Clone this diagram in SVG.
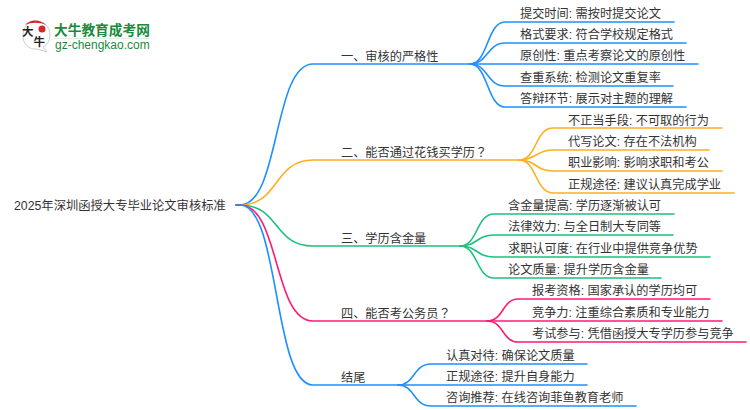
<svg xmlns="http://www.w3.org/2000/svg" width="750" height="410" viewBox="0 0 750 410">
<style>
text{font-family:"Liberation Sans","Noto Sans CJK SC",sans-serif;font-size:12.2px;fill:#333}
.q{font-family:"Noto Sans CJK TC",sans-serif}
.c{fill:none;stroke-width:1.6;stroke-linecap:round}
.b{stroke:#1e90ff}.o{stroke:#ffae1f}.g{stroke:#19c37d}.p{stroke:#ff1a75}
</style>
<rect width="750" height="410" fill="#fff"/>
<g id="logo">
<path d="M36 21C28 21 23 27 23 36C23 44 29 50 37 49L47 52L43 47C48 44 50 40 50 35C50 27 44 21 36 21Z" fill="#fff" stroke="#ccc" stroke-width="1"/>
<path d="M25 25C30 19 40 19 46 25C40 22 31 22 25 25Z" fill="#d8232a"/>
<circle cx="42" cy="29" r="3.5" fill="#d8232a"/>
<text x="22" y="36" style="font-size:11.5px;fill:#222;font-weight:700">大</text>
<text x="33.5" y="46" style="font-size:11.5px;fill:#222;font-weight:700">牛</text>
<text x="54" y="35" style="font-size:13.7px;fill:#1a8a3c;font-weight:700">大牛教育成考网</text>
<rect x="54" y="38" width="96" height="1" fill="#dfeee3"/>
<text x="55" y="49" style="font-size:12px;fill:#1a8a3c">gz-chengkao.com</text>
</g>
<g id="connectors">
<path class="c b" d="M236 205H240C280 205 273 64 313 64H470"/>
<path class="c o" d="M236 205H240C280 205 273 160 313 160H519"/>
<path class="c g" d="M236 205H240C280 205 273 246 313 246H460"/>
<path class="c p" d="M236 205H240C280 205 273 321 313 321H487"/>
<path class="c b" d="M236 205H240C280 205 273 385 313 385H398"/>
<path class="c b" d="M470 64C488 64 487 22 505 22H674"/>
<path class="c b" d="M470 64C488 64 487 43 505 43H686"/>
<path class="c b" d="M470 64H698"/>
<path class="c b" d="M470 64C488 64 487 86 505 86H673"/>
<path class="c b" d="M470 64C488 64 487 107 505 107H686"/>
<path class="c o" d="M519 160C537 160 535 128 553 128H722"/>
<path class="c o" d="M519 160C537 160 535 150 553 150H709"/>
<path class="c o" d="M519 160C537 160 535 171 553 171H722"/>
<path class="c o" d="M519 160C537 160 535 193 553 193H734"/>
<path class="c g" d="M460 246C478 246 476 214 494 214H674"/>
<path class="c g" d="M460 246C478 246 476 235 494 235H673"/>
<path class="c g" d="M460 246C478 246 476 257 494 257H710"/>
<path class="c g" d="M460 246C478 246 476 278 494 278H661"/>
<path class="c p" d="M487 321C504 321 502 299 518 299H710"/>
<path class="c p" d="M487 321H722"/>
<path class="c p" d="M487 321C504 321 502 342 518 342H746"/>
<path class="c b" d="M398 385C415 385 413 364 431 364H587"/>
<path class="c b" d="M398 385H587"/>
<path class="c b" d="M398 385C415 385 413 406 431 406H636"/>
</g>
<g id="root"><text x="14" y="209.500" style="font-size:12.3px">2025年深圳函授大专毕业论文审核标准</text></g>
<g id="n1"><text x="341" y="61">一、审核的严格性</text></g>
<g id="n1a"><text x="520" y="18">提交时间: 需按时提交论文</text></g>
<g id="n1b"><text x="520" y="39">格式要求: 符合学校规定格式</text></g>
<g id="n1c"><text x="520" y="60">原创性: 重点考察论文的原创性</text></g>
<g id="n1d"><text x="520" y="82">查重系统: 检测论文重复率</text></g>
<g id="n1e"><text x="520" y="103">答辩环节: 展示对主题的理解</text></g>
<g id="n2"><text x="341" y="157">二、能否通过花钱买学历<tspan class="q">？</tspan></text></g>
<g id="n2a"><text x="568" y="125">不正当手段: 不可取的行为</text></g>
<g id="n2b"><text x="568" y="146">代写论文: 存在不法机构</text></g>
<g id="n2c"><text x="568" y="167">职业影响: 影响求职和考公</text></g>
<g id="n2d"><text x="568" y="189">正规途径: 建议认真完成学业</text></g>
<g id="n3"><text x="341" y="243">三、学历含金量</text></g>
<g id="n3a"><text x="508" y="210">含金量提高: 学历逐渐被认可</text></g>
<g id="n3b"><text x="508" y="231">法律效力: 与全日制大专同等</text></g>
<g id="n3c"><text x="508" y="253">求职认可度: 在行业中提供竞争优势</text></g>
<g id="n3d"><text x="508" y="274">论文质量: 提升学历含金量</text></g>
<g id="n4"><text x="341" y="318">四、能否考公务员<tspan class="q">？</tspan></text></g>
<g id="n4a"><text x="532" y="295">报考资格: 国家承认的学历均可</text></g>
<g id="n4b"><text x="532" y="317">竞争力: 注重综合素质和专业能力</text></g>
<g id="n4c"><text x="532" y="338">考试参与: 凭借函授大专学历参与竞争</text></g>
<g id="n5"><text x="341" y="382">结尾</text></g>
<g id="n5a"><text x="446" y="360">认真对待: 确保论文质量</text></g>
<g id="n5b"><text x="446" y="381">正规途径: 提升自身能力</text></g>
<g id="n5c"><text x="446" y="402">咨询推荐: 在线咨询菲鱼教育老师</text></g>
</svg>
